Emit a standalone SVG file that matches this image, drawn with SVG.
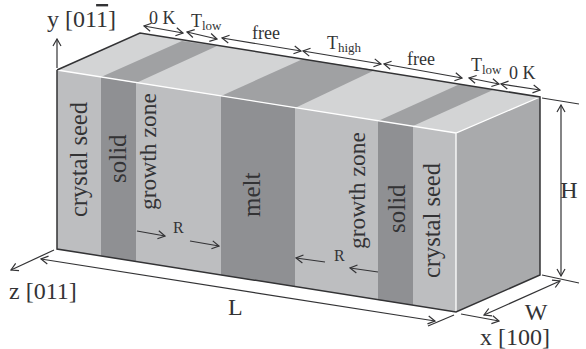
<svg xmlns="http://www.w3.org/2000/svg" width="586" height="349" viewBox="0 0 586 349">
<style>
text{font-family:"Liberation Serif","Times New Roman",serif;fill:#333335;font-size:24px}
.v{font-size:25px}
.c{font-size:24.500px}
.g{font-size:23.500px}
.s{font-size:18px}
.sub{font-size:13px}
.r{font-size:16px}
.ln{fill:none;stroke:#333335;stroke-width:1.2}
.edge{fill:none;stroke:#333335;stroke-width:1.5}
.wh{fill:none;stroke:#fff;stroke-width:1.3}
.seed{fill:#bdbec0}.solid{fill:#8f9093}.tl{fill:#d3d4d5}.td{fill:#a0a1a3}
</style>
<defs>
<marker id="a" viewBox="-8 -5 9 10" refX="0" refY="0" markerWidth="9" markerHeight="10" markerUnits="userSpaceOnUse" orient="auto-start-reverse"><path d="M-7,-4 L0,0 L-7,4" fill="none" stroke="#333335" stroke-width="1.2"/></marker>
</defs>
<g id="block">
<path class="tl" d="M57,70 L140,33 L540,97 L456,133 Z"/>
<path class="td" d="M101,77 L182,41 L217,46 L136,83 Z"/>
<path class="td" d="M221,96 L303,59 L375,70 L295,108 Z"/>
<path class="td" d="M378,121 L460,84 L493,90 L413,126 Z"/>
<path class="seed" d="M57,70 L456,133 V312 L57,249 Z"/>
<path class="solid" d="M101,77 L136,83 V261.500 L101,256 Z"/>
<path class="solid" d="M221,96 L295,108 V286.500 L221,275 Z"/>
<path class="solid" d="M378,121 L413,126 V305 L378,300 Z"/>
<path fill="#a9aaac" d="M456,133 L540,97 V275 L456,312 Z"/>
<path class="wh" d="M57,70 L456,133 L540,97 M456,133 V312"/>
<path class="edge" d="M57,70 L140,33 L540,97 V275 L456,312 L57,249 V70"/>
</g>
<g id="connectors">
<path class="ln" marker-end="url(#a)" d="M57,68 V39"/>
<path class="ln" marker-end="url(#a)" d="M54,250 L11,270"/>
<path class="ln" marker-start="url(#a)" marker-end="url(#a)" d="M41,259 L435,321"/>
<path class="ln" d="M428,326 L454,315"/>
<path class="ln" marker-end="url(#a)" d="M461,314 L499,321"/>
<path class="ln" marker-start="url(#a)" marker-end="url(#a)" d="M484,315 L560,281"/>
<path class="ln" d="M542,275 L579,283 M542,98 L579,104"/>
<path class="ln" marker-start="url(#a)" marker-end="url(#a)" d="M561,105 V276"/>
<path class="ln" marker-start="url(#a)" marker-end="url(#a)" d="M144,26 L183,33"/>
<path class="ln" marker-start="url(#a)" marker-end="url(#a)" d="M187,32 L217,39"/>
<path class="ln" marker-start="url(#a)" marker-end="url(#a)" d="M222,38 L301,51"/>
<path class="ln" marker-start="url(#a)" marker-end="url(#a)" d="M303,51 L381,64"/>
<path class="ln" marker-start="url(#a)" marker-end="url(#a)" d="M384,64 L462,78"/>
<path class="ln" marker-start="url(#a)" marker-end="url(#a)" d="M469,78 L499,84"/>
<path class="ln" marker-start="url(#a)" marker-end="url(#a)" d="M501,84 L540,90"/>
<path class="ln" marker-end="url(#a)" d="M137,231 L165,236"/>
<path class="ln" marker-end="url(#a)" d="M190,241 L219,246"/>
<path class="ln" marker-end="url(#a)" d="M325,262 L296,258"/>
<path class="ln" marker-end="url(#a)" d="M378,272 L350,268"/>
</g>
<g id="labels">
<text x="47" y="27">y [01<tspan text-decoration="overline" style="text-decoration-thickness:1px">1</tspan>]</text>
<text x="9" y="299">z [011]</text>
<text x="228" y="315">L</text>
<text x="569" y="198" text-anchor="middle">H</text>
<text x="536" y="320" text-anchor="middle">W</text>
<text x="480" y="345">x [100]</text>
<text x="149" y="24" class="s">0 K</text>
<text x="191" y="27" class="s">T<tspan class="sub" dy="3">low</tspan></text>
<text x="252" y="39" class="s">free</text>
<text x="327" y="49" class="s">T<tspan class="sub" dy="3">high</tspan></text>
<text x="407" y="65" class="s">free</text>
<text x="471" y="71" class="s">T<tspan class="sub" dy="3">low</tspan></text>
<text x="509" y="79" class="s">0 K</text>
<text x="173" y="233" class="r">R</text>
<text x="334" y="261" class="r">R</text>
<text class="c" transform="translate(87,217) rotate(-90)">crystal seed</text>
<text class="v" transform="translate(126,183) rotate(-90)">solid</text>
<text class="g" transform="translate(155.500,210) rotate(-90)">growth zone</text>
<text class="v" transform="translate(260,217) rotate(-90)">melt</text>
<text class="g" transform="translate(365,249) rotate(-90)">growth zone</text>
<text class="v" transform="translate(405,233) rotate(-90)">solid</text>
<text class="c" transform="translate(440,278) rotate(-90)">crystal seed</text>
</g>
</svg>
